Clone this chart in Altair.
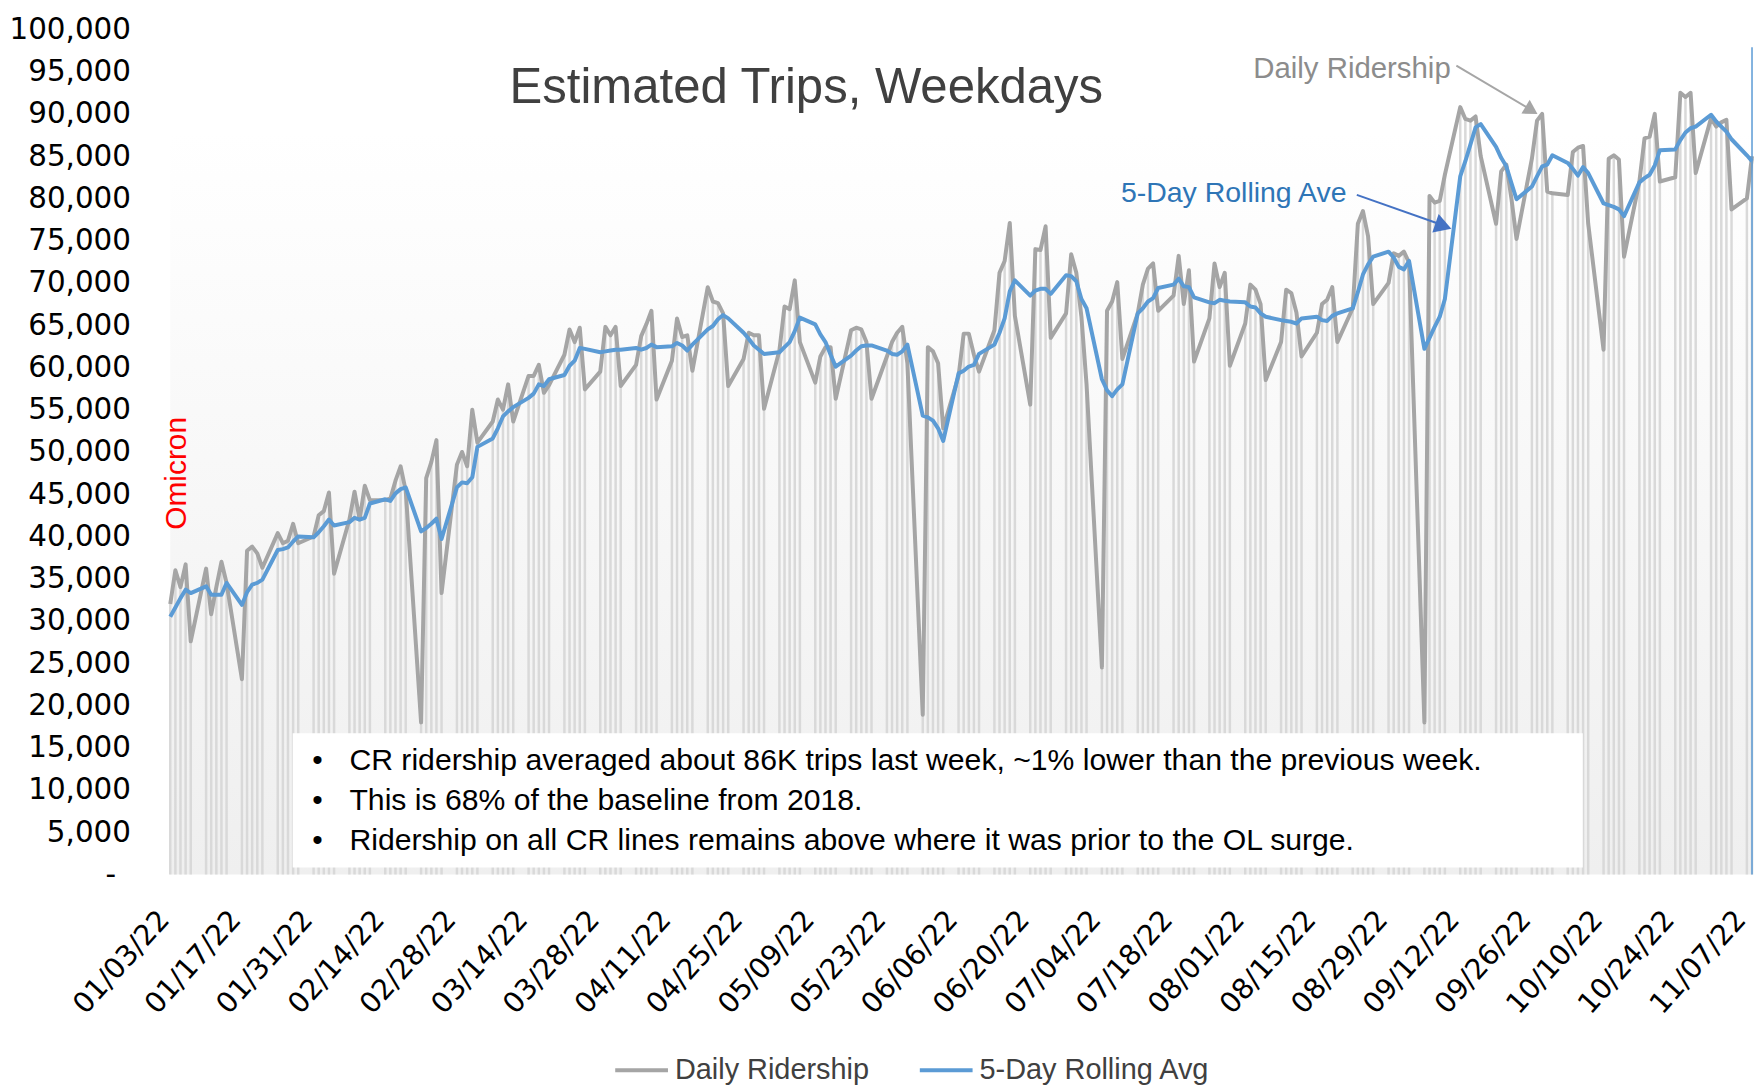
import altair as alt
import pandas as pd

FIRST_DAY = "2022-01-03"
LAST_DAY = "2022-11-08"

TICK_LABELS = ["01/03/22", "01/17/22", "01/31/22", "02/14/22", "02/28/22", "03/14/22",
               "03/28/22", "04/11/22", "04/25/22", "05/09/22", "05/23/22", "06/06/22",
               "06/20/22", "07/04/22", "07/18/22", "08/01/22", "08/15/22", "08/29/22",
               "09/12/22", "09/26/22", "10/10/22", "10/24/22", "11/07/22"]

SERIES = ["Daily Ridership", "5-Day Rolling Avg"]
COLORS = ["#a5a5a5", "#5b9bd5"]

# Daily weekday ridership, thousands of trips (Mon..Fri per row)
GRAY_K = [
    32.0, 36.0, 34.0, 36.7, 27.6,
    36.2, 30.8, 34.0, 37.0, 34.5,
    23.1, 38.3, 38.8, 38.0, 36.3,
    40.4, 39.2, 39.5, 41.5, 39.2,
    40.0, 42.5, 43.0, 45.2, 35.6,
    42.0, 45.3, 42.0, 46.0, 44.3,
    44.3, 44.5, 46.6, 48.3, 45.4,
    18.0, 46.9, 48.8, 51.4, 33.3,
    48.5, 50.0, 48.3, 55.0, 51.1,
    53.6, 56.2, 55.0, 58.0, 53.6,
    59.0, 59.0, 60.3, 57.0, 57.9,
    61.5, 64.5, 63.0, 64.7, 57.4,
    59.5, 64.8, 63.8, 64.8, 57.8,
    60.3, 63.7, 65.1, 66.7, 56.2,
    60.8, 65.8, 63.6, 63.8, 59.6,
    69.5, 67.8, 67.6, 66.4, 57.8,
    61.0, 64.1, 63.8, 63.8, 55.1,
    62.0, 67.2, 66.9, 70.3, 63.0,
    58.2, 61.3, 62.4, 62.4, 56.3,
    64.4, 64.7, 64.5, 63.0, 56.3,
    61.3, 63.0, 64.1, 64.8, 60.5,
    18.9, 62.4, 61.9, 60.5, 52.8,
    59.0, 64.0, 64.0, 61.5, 59.5,
    64.4, 71.2, 72.6, 77.1, 66.1,
    55.6, 74.0, 73.9, 76.7, 63.5,
    66.4, 73.4, 71.2, 66.0, 58.0,
    24.5, 66.7, 67.8, 70.1, 61.0,
    66.4, 69.8, 71.7, 72.3, 66.7,
    68.5, 73.2, 67.5, 71.5, 60.7,
    65.8, 72.3, 69.5, 71.2, 60.2,
    65.2, 69.8, 69.2, 67.5, 58.5,
    63.0, 69.2, 68.8, 66.5, 61.3,
    64.1, 67.5, 68.0, 69.5, 63.0,
    67.0, 77.0, 78.5, 75.5, 67.5,
    70.0, 73.5, 73.2, 73.7, 72.4,
    18.0, 80.3, 79.5, 79.7, 82.8,
    90.8, 89.4, 89.2, 89.7, 85.0,
    77.0, 83.2, 84.0, 80.0, 75.2,
    84.7, 89.2, 90.0, 80.8, 80.6,
    80.4, 85.5, 86.0, 86.2, 77.0,
    62.1, 84.7, 85.1, 84.6, 73.1,
    82.0, 87.1, 87.3, 90.0, 82.0,
    82.5, 92.5, 92.0, 92.5, 83.0,
    89.5, 88.5, 89.0, 89.3, 78.7,
    80.0, 85.0,
]

# 5-day rolling average, thousands of trips (Mon..Fri per row)
BLUE_K = [
    30.5, 31.6, 32.7, 33.7, 33.3,
    34.1, 33.1, 33.1, 33.1, 34.5,
    31.9, 33.4, 34.3, 34.5, 34.9,
    38.4, 38.5, 38.7, 39.4, 40.0,
    39.9, 40.5, 41.2, 42.0, 41.3,
    41.7, 42.2, 42.0, 42.2, 43.9,
    44.4, 44.2, 45.1, 45.6, 45.8,
    40.6, 41.0, 41.5, 42.1, 39.7,
    45.8, 46.4, 46.3, 47.0, 50.6,
    51.6, 52.8, 54.2, 54.8, 55.3,
    56.4, 56.9, 58.0, 57.8, 58.6,
    59.1, 60.2, 60.8, 62.3, 62.2,
    61.8, 61.9, 62.0, 62.1, 62.1,
    62.3, 62.1, 62.3, 62.7, 62.4,
    62.5, 62.9, 62.6, 62.0, 62.7,
    64.5, 64.9, 65.7, 66.2, 65.8,
    64.1, 63.4, 62.6, 62.1, 61.6,
    61.8, 62.4, 63.0, 64.3, 65.9,
    65.1, 63.9, 63.0, 61.5, 60.1,
    61.4, 62.0, 62.5, 62.6, 62.6,
    62.0, 61.6, 61.5, 61.9, 62.7,
    54.3, 54.1, 53.7, 52.8, 51.3,
    59.3, 59.6, 60.1, 60.3, 61.6,
    62.7, 64.1, 65.8, 69.0, 70.3,
    68.5, 69.1, 69.3, 69.3, 68.7,
    70.9, 70.8, 70.2, 68.1, 67.0,
    58.6, 57.3, 56.6, 57.4, 58.0,
    66.4, 67.0, 67.8, 68.2, 69.4,
    69.8, 70.5, 69.6, 69.5, 68.3,
    67.7, 67.6, 68.0, 67.9, 67.8,
    67.7, 67.2, 67.1, 66.4, 66.0,
    65.6, 65.5, 65.4, 65.2, 65.8,
    66.0, 65.6, 65.5, 66.1, 66.4,
    67.0, 68.9, 71.0, 72.2, 73.1,
    73.7, 73.0, 71.9, 71.6, 72.6,
    62.2, 63.5, 64.8, 66.0, 68.1,
    82.6, 84.4, 86.4, 88.4, 88.8,
    86.1, 84.8, 83.8, 81.8, 79.9,
    81.4, 82.6, 83.8, 84.0, 85.1,
    84.2, 83.5, 82.7, 83.7, 83.0,
    79.4, 79.2, 79.0, 78.7, 77.9,
    81.9, 82.4, 82.8, 83.9, 85.7,
    85.8, 86.9, 87.8, 88.3, 88.5,
    89.9, 89.1, 88.5, 87.9, 87.0,
    85.1, 84.4,
]

Y_TICKS = list(range(0, 100001, 5000))

TITLE = "Estimated Trips, Weekdays"
BULLETS = [
    "CR ridership averaged about 86K trips last week, ~1% lower than the previous week.",
    "This is 68% of the baseline from 2018.",
    "Ridership on all CR lines remains above where it was prior to the OL surge.",
]

# ---------------------------------------------------------------------------
dates = pd.bdate_range(FIRST_DAY, LAST_DAY)
days = [(d - dates[0]).days for d in dates]
n_days = (pd.Timestamp(LAST_DAY) - dates[0]).days

gray = pd.DataFrame([{"day": d, "value": v * 1000, "series": SERIES[0]} for d, v in zip(days, GRAY_K)])
blue = pd.DataFrame([{"day": d, "value": v * 1000, "series": SERIES[1]} for d, v in zip(days, BLUE_K)])
one = pd.DataFrame({"k": [0]})

W, H = 1589, 849
FONT = "Liberation Sans"

label_js = "[" + ",".join("'%s'" % t for t in TICK_LABELS) + "][round(datum.value / 14)]"

x_enc = alt.X(
    "day:Q", title=None,
    scale=alt.Scale(domain=[0, n_days], nice=False, zero=False),
    axis=alt.Axis(values=list(range(0, n_days + 1, 14)), labelExpr=label_js,
                  labelAngle=-48, labelAlign="right", labelBaseline="alphabetic",
                  labelPadding=46, labelFont="DejaVu Sans", labelFontSize=28.5,
                  labelColor="#000000", grid=False, ticks=False, domain=False,
                  labelFlush=False, labelOverlap=False, labelBound=False),
)
y_enc = alt.Y(
    "value:Q", title=None,
    scale=alt.Scale(domain=[0, 100000], nice=False, zero=True),
    axis=alt.Axis(values=Y_TICKS,
                  labelExpr="datum.value == 0 ? '-' : format(datum.value, ',')",
                  labelFont="DejaVu Sans", labelFontSize=29.5, labelColor="#000000",
                  labelPadding={"condition": {"test": "datum.value == 0", "value": 55},
                                "value": 40},
                  grid=False, ticks=False, domain=False, labelFlush=False),
)
color_enc = alt.Color(
    "series:N",
    scale=alt.Scale(domain=SERIES, range=COLORS),
    legend=alt.Legend(orient="none", legendX=445, legendY=1017, direction="horizontal",
                      title=None, symbolType="stroke", symbolSize=2809, symbolStrokeWidth=4,
                      labelFont=FONT, labelFontSize=29, labelColor="#404040",
                      columnPadding=42, labelOffset=5, padding=0, labelLimit=500),
)

bg = alt.Chart(one).mark_rect(
    color=alt.LinearGradient(
        gradient="linear", x1=0, x2=0, y1=0, y2=1,
        stops=[alt.GradientStop(color="#ffffff", offset=0),
               alt.GradientStop(color="#efefef", offset=1)])
).encode(x=alt.value(0), x2=alt.value(W), y=alt.value(103), y2=alt.value(H))

drops = alt.Chart(gray).mark_rule(color="#d9d9d9", strokeWidth=2.5).encode(
    x=x_enc, y=y_enc, y2=alt.datum(0))
gline = alt.Chart(gray).mark_line(strokeWidth=4, strokeJoin="round").encode(
    x=x_enc, y=y_enc, color=color_enc)
bline = alt.Chart(blue).mark_line(strokeWidth=4, strokeJoin="round").encode(
    x=x_enc, y=y_enc, color=color_enc)

box = alt.Chart(one).mark_rect(color="#ffffff").encode(
    x=alt.value(123), x2=alt.value(1419), y=alt.value(707), y2=alt.value(842))


def txt(s, x, y, **kw):
    props = dict(font=FONT)
    props.update(kw)
    return alt.Chart(one).mark_text(text=s, **props).encode(x=alt.value(x), y=alt.value(y))


texts = [
    txt(TITLE, 639, 74, fontSize=49.3, color="#404040", baseline="alphabetic"),
    txt("Daily Ridership", 1088, 40, align="left", fontSize=29.5, color="#8c8c8c"),
    txt("5-Day Rolling Ave", 955, 164.5, align="left", fontSize=28.6, color="#2e75b6"),
    txt("Omicron", 7, 446, angle=270, fontSize=30, color="#ff0000"),
]
for i, line in enumerate(BULLETS):
    yy = 735 + i * 40
    texts.append(txt("\u2022", 148, yy, fontSize=30, color="#000000"))
    texts.append(txt(line, 180, yy, align="left", fontSize=30.3, color="#000000"))

arrows = [
    alt.Chart(one).mark_rule(color="#a6a6a6", strokeWidth=2).encode(
        x=alt.value(1292), x2=alt.value(1364), y=alt.value(36.5), y2=alt.value(79)),
    alt.Chart(one).mark_point(shape="triangle-right", angle=31, filled=True, size=260,
                              color="#a6a6a6", opacity=1).encode(
        x=alt.value(1367.5), y=alt.value(81.3)),
    alt.Chart(one).mark_rule(color="#4472c4", strokeWidth=2).encode(
        x=alt.value(1192), x2=alt.value(1275), y=alt.value(166.3), y2=alt.value(195.5)),
    alt.Chart(one).mark_point(shape="triangle-right", angle=19, filled=True, size=380,
                              color="#4472c4", opacity=1).encode(
        x=alt.value(1279), y=alt.value(197.5)),
]

edge = alt.Chart(one).mark_rule(color="#5b9bd5", strokeWidth=1.5).encode(
    x=alt.value(W), y=alt.value(18), y2=alt.value(H))

chart = alt.layer(bg, drops, gline, bline, box, *texts, *arrows, edge).properties(
    width=W, height=H,
    autosize=alt.AutoSizeParams(type="none"),
    padding={"left": 163, "top": 19, "right": 2, "bottom": 215},
).configure_view(stroke=None)

chart.save("out.html", embed_options={"renderer": "svg", "actions": False})
